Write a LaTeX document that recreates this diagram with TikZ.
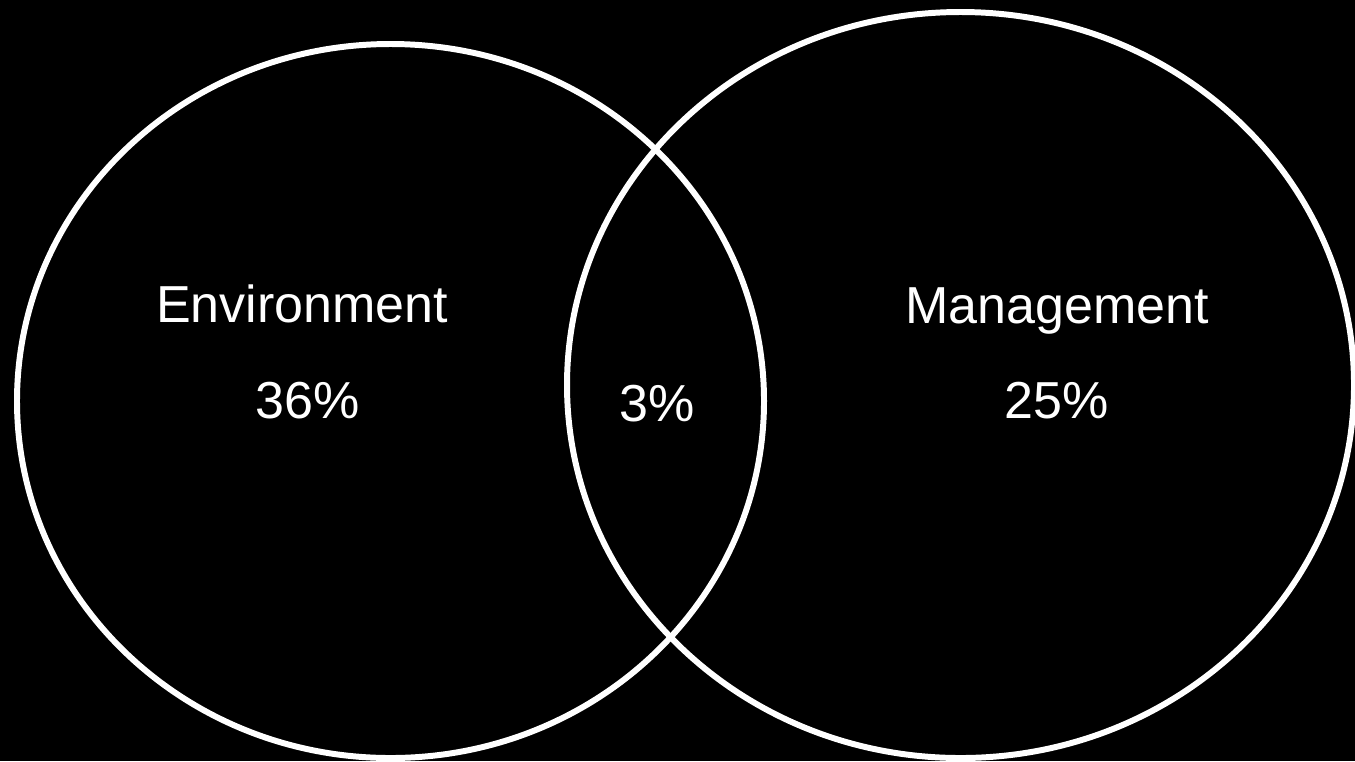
\documentclass[tikz,border=0pt]{standalone}
\usepackage{fontspec}
\setmainfont{Liberation Sans}

\tikzset{
  ring/.style={draw=white, line width=1.7pt},
  label/.style={text=white, anchor=base, inner sep=0pt, font=\fontsize{14.8}{18}\selectfont}
}

\begin{document}
\begin{tikzpicture}[]
            \fill[black] (0,0) rectangle (13.55,7.61);
            \useasboundingbox (0,0) rectangle (13.55,7.61);
            \clip (0,0) rectangle (13.55,7.61);

            \draw[ring] (3.905,3.60) ellipse [x radius=3.735, y radius=3.57];
            \draw[ring] (9.605,3.76) ellipse [x radius=3.935, y radius=3.73];

            \node[label] (env) at (3.02,4.39) {Environment};
            \node[label] (envval) at (3.08,3.43) {36\%};
            \node[label] (both) at (6.57,3.40) {3\%};
            \node[label] (mgmt) at (10.57,4.38) {Management};
            \node[label] (mgmtval) at (10.57,3.43) {25\%};
\end{tikzpicture}
\end{document}
